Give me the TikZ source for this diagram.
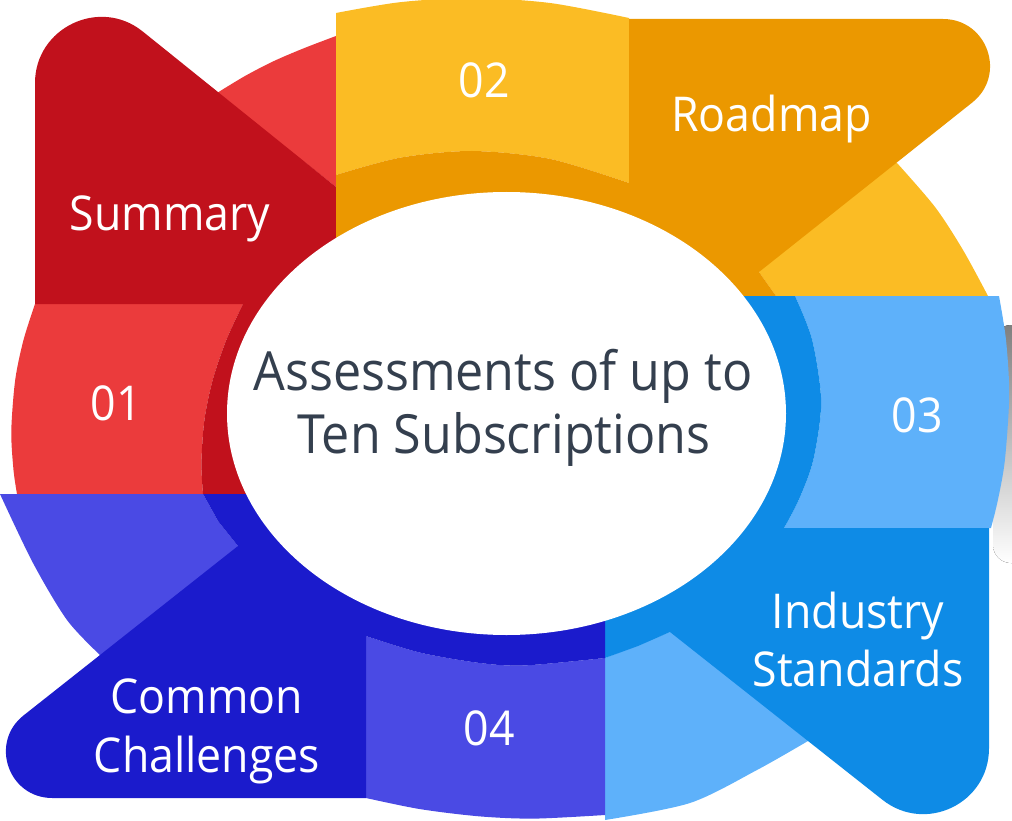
\documentclass[tikz,border=0pt]{standalone}
\usepackage{fontspec}
\setmainfont[FakeStretch=0.93]{Open Sans}
\usetikzlibrary{shapes.geometric}

\definecolor{redlt}{HTML}{EB3B3C}
\definecolor{reddk}{HTML}{C1111C}
\definecolor{orglt}{HTML}{FBBC24}
\definecolor{orgdk}{HTML}{EB9800}
\definecolor{blult}{HTML}{5EB1FA}
\definecolor{bludk}{HTML}{0E8BE6}
\definecolor{indlt}{HTML}{4A4AE4}
\definecolor{inddk}{HTML}{1B1BCC}
\definecolor{hubtext}{HTML}{343F4E}
\definecolor{shade}{HTML}{F1F2F6}

\begin{document}
\begin{tikzpicture}[x=1pt,y=-1pt,
  lbl/.style={text=white, font=\fontsize{48}{58}\selectfont, inner sep=0pt, anchor=base},
  hubline/.style={text=hubtext, font=\fontsize{54}{63}\selectfont, inner sep=0pt, anchor=base}]
\useasboundingbox (0,0) rectangle (1012,821);

% faint panel behind the right block
\fill[shade, rounded corners=18] (993,325) rectangle (1040,563);

% ---- light ring pieces and number blocks ----
% red: ring arc above the tab and block 01
\fill[redlt] (217,93) -- plot[smooth] coordinates {(217,93) (245,76) (274,61) (304.5,48) (336,36)} -- (336,187) -- cycle;
\fill[redlt] (35,304) -- (243,304)
  -- plot[smooth] coordinates {(243,304) (226.3,340) (212.7,380) (204.4,420) (201.4,463) (203,494)}
  -- (17,494)
  -- plot[smooth] coordinates {(17,494) (13.5,470) (11.3,431) (15.2,380) (23.5,340) (35,304)} -- cycle;

% orange: block 02 and ring arc right of the tab
\fill[orglt] (336,13)
  -- plot[smooth] coordinates {(336,13) (400,2.2) (472,-2) (550,3) (629,18)}
  -- (629,183)
  -- plot[smooth] coordinates {(629,183) (550,158.9) (472,151) (400,157.7) (336,175)} -- cycle;
\fill[orglt] (850,160) -- (897,163)
  -- plot[smooth] coordinates {(897,163) (935,207) (963,250) (988,296)}
  -- (776,296) -- (759,272) -- cycle;

% blue: block 03 and ring arc below the tab
\fill[blult] (795,296) -- (999,296)
  -- plot[smooth] coordinates {(999,296) (1006,340) (1009.2,395) (1004.9,460) (997.9,500) (991,528)}
  -- (784,528)
  -- plot[smooth] coordinates {(784,528) (798.7,500) (813.3,460) (821.15,402) (812.2,340) (795,296)} -- cycle;
\fill[blult] (605,658) -- (670,632) -- (760,640) -- (808,741)
  -- plot[smooth] coordinates {(808,741) (757,770) (690,803) (605,820)} -- cycle;

% indigo: block 04 and ring arc left of the tab
\fill[indlt] (366,636)
  -- plot[smooth] coordinates {(366,636) (420,652.6) (480,663) (525,665.4) (605,658)}
  -- (605,815)
  -- plot[smooth] coordinates {(605,815) (534.6,818.6) (480,816.4) (420,809.1) (366,798)} -- cycle;
\fill[indlt] (0,494) -- (203,494) -- (218,521) -- (238,546) -- (150,680) -- (100,655)
  -- plot[smooth] coordinates {(100,655) (67,620) (33,563) (0,494)} -- cycle;

% ---- dark tabs with inner strips ----
\fill[reddk] (35,304) -- (35,83) .. controls (35,27.8) and (99.6,-3.2) .. (142.6,31.4)
  -- (336,187) -- (336,413) -- (300,494) -- (203,494)
  -- plot[smooth] coordinates {(203,494) (201.4,463) (204.4,420) (212.7,380) (226.3,340) (243,304)} -- cycle;

\fill[orgdk] (336,175)
  -- plot[smooth] coordinates {(336,175) (400,157.7) (472,151) (550,158.9) (629,183)}
  -- (629,19) -- (943,19) .. controls (987.3,19) and (1007,74.8) .. (972.4,102.4)
  -- (759,272) -- (776,296) -- (700,296) -- (506,413) -- (336,413) -- cycle;

\fill[bludk] (795,296)
  -- plot[smooth] coordinates {(795,296) (812.2,340) (821.15,402) (813.3,460) (798.7,500) (784,528)}
  -- (989,528) -- (989,748.4) .. controls (989,803.3) and (925.7,833.9) .. (882.6,799.9)
  -- (670,632) -- (638,646) -- (605,658) -- (605,413) -- (700,296) -- cycle;

\fill[inddk] (366,798) -- (52.3,798) .. controls (8.4,798) and (-10.9,742.6) .. (23.6,715.4)
  -- (238,546) -- (218,521) -- (203,494) -- (300,494) -- (605,413) -- (605,658)
  -- plot[smooth] coordinates {(605,658) (525,665.4) (480,663) (420,652.6) (366,636)} -- cycle;

% ---- central hub ----
\node[shape=ellipse, fill=white, minimum width=559pt, minimum height=443pt, inner sep=0pt] (hub) at (506.5,413.5) {};
\node[hubline] (hubA) at (503,390) {Assessments of up to};
\node[hubline] (hubB) at (504,453) {Ten Subscriptions};

% ---- labels ----
\node[lbl] (n01) at (116,420) {01};
\node[lbl] (n02) at (484,98) {02};
\node[lbl] (n03) at (917,432) {03};
\node[lbl] (n04) at (489,745) {04};
\node[lbl] (tSummary) at (170,231) {Summary};
\node[lbl] (tRoadmap) at (771.5,132) {Roadmap};
\node[lbl] (tIndA) at (858,628) {Industry};
\node[lbl] (tIndB) at (858,686) {Standards};
\node[lbl] (tComA) at (207,713) {Common};
\node[lbl] (tComB) at (207,772) {Challenges};
\end{tikzpicture}
\end{document}
